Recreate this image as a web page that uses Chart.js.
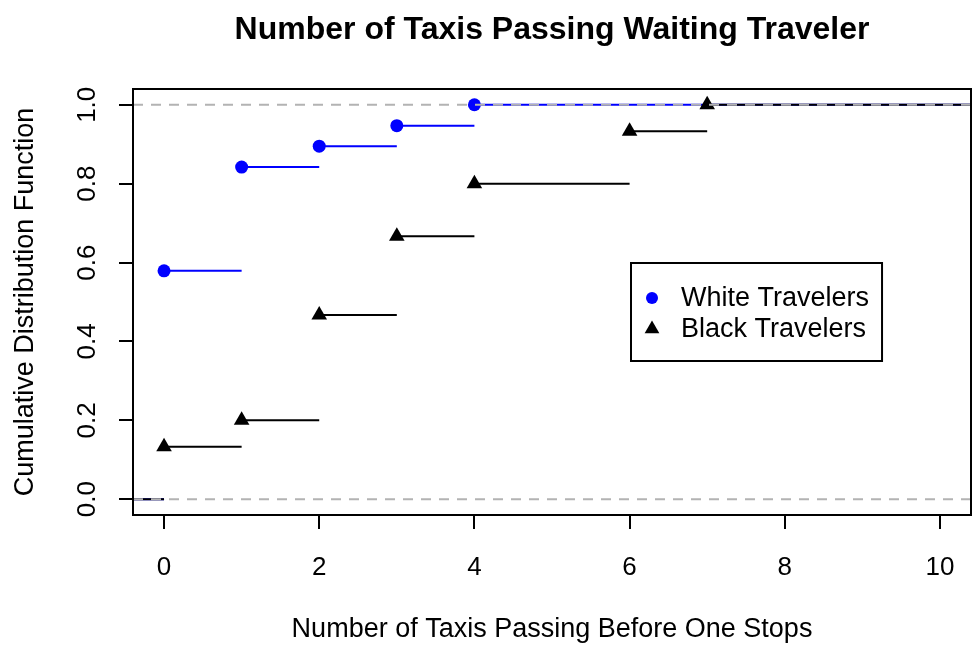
<!DOCTYPE html>
<html>
<head>
<meta charset="utf-8">
<title>Number of Taxis Passing Waiting Traveler</title>
<script src="https://cdn.jsdelivr.net/npm/chart.js@4.4.1/dist/chart.umd.min.js"></script>
<style>
  html, body { margin: 0; padding: 0; background: #fff; overflow: hidden; }
  #wrap { width: 972px; height: 647px; overflow: hidden; }
  #wrap canvas { display: block; }
</style>
</head>
<body>
<div id="wrap"><canvas id="cdf" width="980" height="647"></canvas></div>
<script>
// ecdf of taxis passing before one stops, per group
const whiteTaxis = [0, 1, 2, 3, 4];
const whiteCdf = [0.579, 0.842, 0.895, 0.947, 1.0];
const blackTaxis = [0, 1, 2, 3, 4, 6, 7];
const blackCdf = [0.133, 0.200, 0.467, 0.667, 0.800, 0.933, 1.0];

const xTicks = [0, 2, 4, 6, 8, 10];
const yTicks = [0, 0.2, 0.4, 0.6, 0.8, 1.0];
const xRange = [-0.4, 10.4];
const yRange = [-0.04, 1.04];
const refLevels = [0, 1];   // dashed 0/1 guide lines

const legendLabels = ['White Travelers', 'Black Travelers'];
const legendAt = { x: 6, y: 0.6 };  // top-left corner of legend box, data units

const WHITE = '#0000ff';
const BLACK = '#000000';
const GUIDE = '#b3b3b3';

Chart.defaults.font.family = '"Liberation Sans", Arial, Helvetica, sans-serif';
Chart.defaults.color = '#000';

// horizontal pieces of the step function (no verticals), null breaks the line
function stepSegments(xs, ys) {
    const pts = [{ x: xRange[0], y: 0 }, { x: xs[0], y: 0 }, { x: xs[0], y: null }];
    xs.forEach((x, i) => {
        const end = i < xs.length - 1 ? xs[i + 1] : xRange[1];
        pts.push({ x: x, y: ys[i] }, { x: end, y: ys[i] }, { x: end, y: null });
    });
    return pts;
}

function guideLines() {
    const pts = [];
    refLevels.forEach(v => {
        pts.push({ x: xRange[0], y: v }, { x: xRange[1], y: v }, { x: xRange[1], y: null });
    });
    return pts;
}

const toPoints = (xs, ys) => xs.map((x, i) => ({ x: x, y: ys[i] }));

// box around the plot region
const plotFrame = {
    id: 'plotFrame',
    afterDraw(chart) {
        const { ctx, chartArea: a } = chart;
        ctx.save();
        ctx.strokeStyle = '#000';
        ctx.lineWidth = 2;
        ctx.strokeRect(a.left, a.top, a.right - a.left, a.bottom - a.top);
        ctx.restore();
    }
};

// legend box placed at data coordinates inside the plot
const legendBox = {
    id: 'legendBox',
    afterDatasetsDraw(chart) {
        const { ctx, scales: { x, y } } = chart;
        const left = Math.round(x.getPixelForValue(legendAt.x)) + 1;
        const top = Math.round(y.getPixelForValue(legendAt.y));
        ctx.save();
        ctx.font = '27px "Liberation Sans", Arial, sans-serif';
        const textW = Math.max(...legendLabels.map(t => ctx.measureText(t).width));
        const w = 49 + textW + 14, h = 98;
        ctx.fillStyle = '#fff';
        ctx.fillRect(left, top, w, h);
        ctx.strokeStyle = '#000';
        ctx.lineWidth = 2;
        ctx.strokeRect(left, top, w, h);

        const markers = [chart.data.datasets[4], chart.data.datasets[2]];
        legendLabels.forEach((label, i) => {
            const cy = top + 35 + i * 31;
            const ds = markers[i];
            ctx.fillStyle = ds.pointBackgroundColor;
            ctx.strokeStyle = ds.pointBackgroundColor;
            Chart.helpers.drawPoint(ctx, { pointStyle: ds.pointStyle, radius: ds.pointRadius - 0.5, rotation: 0, borderWidth: 0 }, left + 21, cy);
            ctx.fillStyle = '#000';
            ctx.textBaseline = 'middle';
            ctx.textAlign = 'left';
            ctx.fillText(label, left + 50, cy + 1);
        });
        ctx.restore();
    }
};

new Chart(document.getElementById('cdf'), {
    type: 'scatter',
    data: {
        datasets: [
            { label: 'guides', data: guideLines(), showLine: true, pointRadius: 0,
              borderColor: GUIDE, borderWidth: 2, borderDash: [10, 8], order: 0 },
            { label: 'black steps', data: stepSegments(blackTaxis, blackCdf), showLine: true, pointRadius: 0,
              borderColor: BLACK, borderWidth: 2, order: 2 },
            { label: 'Black Travelers', data: toPoints(blackTaxis, blackCdf), showLine: false,
              pointStyle: 'triangle', pointRadius: 9, pointBorderWidth: 0,
              pointBackgroundColor: BLACK, order: 1 },
            { label: 'white steps', data: stepSegments(whiteTaxis, whiteCdf), showLine: true, pointRadius: 0,
              borderColor: WHITE, borderWidth: 2, order: 4 },
            { label: 'White Travelers', data: toPoints(whiteTaxis, whiteCdf), showLine: false,
              pointStyle: 'circle', pointRadius: 6.5, pointBorderWidth: 0,
              pointBackgroundColor: WHITE, order: 3 }
        ]
    },
    options: {
        responsive: false,
        animation: false,
        events: [],
        layout: { padding: { left: 0, right: 4, top: 0, bottom: 0 } },
        plugins: {
            legend: { display: false },
            tooltip: { enabled: false },
            title: {
                display: true,
                fullSize: false,
                text: 'Number of Taxis Passing Waiting Traveler',
                color: '#000',
                font: { size: 32, weight: 'bold' },
                padding: { top: 11, bottom: 39.6 }
            }
        },
        scales: {
            x: {
                type: 'linear',
                min: xRange[0], max: xRange[1],
                afterBuildTicks: s => { s.ticks = xTicks.map(v => ({ value: v })); },
                afterFit: s => { s.height = 132; },
                ticks: { font: { size: 26 }, color: '#000', padding: 23, autoSkip: false, maxRotation: 0,
                         callback: v => String(v) },
                grid: { drawOnChartArea: false, drawTicks: true, tickLength: 14, color: '#000', lineWidth: 2 },
                border: { display: false },
                title: { display: true, text: 'Number of Taxis Passing Before One Stops',
                         font: { size: 27 }, color: '#000', padding: { top: 0, bottom: 1 } }
            },
            y: {
                type: 'linear',
                min: yRange[0], max: yRange[1],
                afterBuildTicks: s => { s.ticks = yTicks.map(v => ({ value: v })); },
                afterFit: s => { s.width = 133; },
                ticks: { font: { size: 26 }, color: '#000', padding: 13, autoSkip: false,
                         minRotation: 90, maxRotation: 90, crossAlign: 'center',
                         callback: v => v.toFixed(1) },
                grid: { drawOnChartArea: false, drawTicks: true, tickLength: 14, color: '#000', lineWidth: 2 },
                border: { display: false },
                title: { display: true, text: 'Cumulative Distribution Function',
                         font: { size: 27 }, color: '#000', padding: { top: 9, bottom: 0 } }
            }
        }
    },
    plugins: [plotFrame, legendBox]
});
</script>
</body>
</html>
